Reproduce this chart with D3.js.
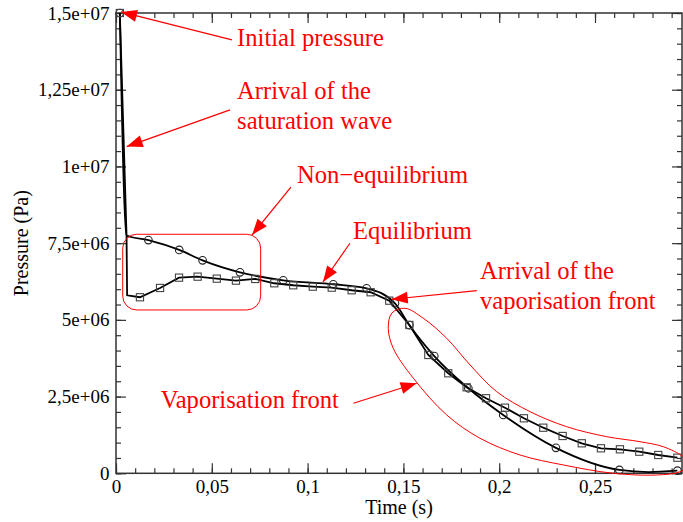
<!DOCTYPE html>
<html>
<head>
<meta charset="utf-8">
<script src="https://cdn.jsdelivr.net/npm/d3@7"></script>
<style>
    body { margin: 0; background: #fff; }
    #chart { width: 683px; height: 522px; }
    svg { display: block; font-family: "Liberation Serif", "Times New Roman", serif; }
</style>
</head>
<body>
<div id="chart"></div>
<script>
//Ejes
const xTickValues = [0, 0.05, 0.1, 0.15, 0.2, 0.25];
const xTickLabels = ['0', '0,05', '0,1', '0,15', '0,2', '0,25'];
const yTickValues = [0, 2.5e6, 5e6, 7.5e6, 1e7, 1.25e7, 1.5e7];
const yTickLabels = ['0', '2,5e+06', '5e+06', '7,5e+06', '1e+07', '1,25e+07', '1,5e+07'];

//Serie con círculos (línea y marcadores)
const circleLineTime = [0.002, 0.0055, 0.0169, 0.0330, 0.0452, 0.0647, 0.0873, 0.1134, 0.1308, 0.1456, 0.1531, 0.1661, 0.1839, 0.2021, 0.2296, 0.2627, 0.278, 0.2930];
const circleLinePressure = [1.5e7, 7.75e6, 7.60e6, 7.28e6, 6.94e6, 6.55e6, 6.29e6, 6.16e6, 6.03e6, 5.54e6, 4.83e6, 3.82e6, 2.77e6, 1.90e6, 0.83e6, 0.11e6, 0.04e6, 0.085e6];
const circleMarkTime = [0.002, 0.0169, 0.0330, 0.0452, 0.0647, 0.0873, 0.1134, 0.1308, 0.1456, 0.1531, 0.1661, 0.1839, 0.2021, 0.2296, 0.2627, 0.2930];
const circleMarkPressure = [1.5e7, 7.60e6, 7.28e6, 6.94e6, 6.55e6, 6.29e6, 6.16e6, 6.03e6, 5.54e6, 4.83e6, 3.82e6, 2.77e6, 1.90e6, 0.83e6, 0.11e6, 0.085e6];

//Serie con cuadrados
const squareLineTime = [0.002, 0.0055, 0.0058];
const squareLinePressure = [1.5e7, 7.75e6, 5.8e6];
const squareMarkTime = [0.0125, 0.0230, 0.0329, 0.0426, 0.0526, 0.0626, 0.0727, 0.0826, 0.0925, 0.1027, 0.1126, 0.1230, 0.1329, 0.1426, 0.1531, 0.1630, 0.1734, 0.1830, 0.1931, 0.2030, 0.2129, 0.2230, 0.2331, 0.2431, 0.2531, 0.2630, 0.2731, 0.2830, 0.2930];
const squareMarkPressure = [5.737e6, 6.040e6, 6.376e6, 6.408e6, 6.343e6, 6.278e6, 6.333e6, 6.193e6, 6.128e6, 6.082e6, 6.050e6, 5.965e6, 5.900e6, 5.626e6, 4.834e6, 3.856e6, 3.26e6, 2.803e6, 2.445e6, 2.138e6, 1.793e6, 1.486e6, 1.216e6, 0.978e6, 0.815e6, 0.782e6, 0.704e6, 0.596e6, 0.508e6];
const squareFirstMarkTime = 0.002, squareFirstMarkPressure = 1.5e7;

//Anotaciones
const noteLines = [['Initial pressure'], ['Arrival of the', 'saturation wave'], ['Non\u2212equilibrium'], ['Equilibrium'], ['Arrival of the', 'vaporisation front'], ['Vaporisation front']];
const noteTime = [0.0632, 0.0632, 0.0945, 0.1237, 0.19, 0.0233];
const notePressure = [1.3928e7, 1.220e7, 9.462e6, 7.637e6, 6.323e6, 2.119e6];
const arrowFromTime = [0.0605, 0.0595, 0.0913, 0.1221, 0.1883, 0.1239];
const arrowFromPressure = [1.4124e7, 1.1842e7, 9.322e6, 7.497e6, 5.952e6, 2.282e6];
const arrowToTime = [0.0026, 0.0056, 0.0710, 0.1080, 0.1439, 0.1569];
const arrowToPressure = [1.5036e7, 1.0646e7, 7.767e6, 6.235e6, 5.672e6, 2.934e6];
const boxTime = [0.0035, 0.0755];
const boxPressure = [5.323e6, 7.79e6];
const frontTime = [0.1508, 0.1604, 0.1726, 0.1848, 0.1987, 0.2161, 0.2352, 0.2561, 0.2735, 0.2856, 0.2961, 0.2996,
    0.2944, 0.2822, 0.2596, 0.2335, 0.2109, 0.19, 0.1726, 0.1552, 0.1447, 0.1421, 0.1440];
const frontPressure = [5.378e6, 5.052e6, 4.400e6, 3.530e6, 2.660e6, 2.008e6, 1.519e6, 1.193e6, 1.030e6, 0.867e6, 0.541e6, 0.303e6,
    0.052e6, -0.055e6, 0.0, 0.271e6, 0.596e6, 1.141e6, 1.900e6, 3.097e6, 4.074e6, 4.726e6, 5.225e6];

const RED = '#ff0000', AXIS = '#333333';

let margin = {top: 13, right: 1, bottom: 48.7, left: 116},
    width = 683 - margin.left - margin.right,
    height = 522 - margin.top - margin.bottom;

let svg = d3.select('#chart')
    .append('svg')
        .attr('width', 683)
        .attr('height', 522)
    .append('g')
        .attr('transform', 'translate(' + margin.left + ',' + margin.top + ')');

let x = d3.scaleLinear().domain([0, 0.2954]).range([0, width]);
let y = d3.scaleLinear().domain([0, 1.5e7]).range([height, 0]);

//Ticks menores
let xMinor = d3.range(0, 0.2954, 0.01), yMinor = d3.range(0, 1.5e7 + 1, 5e5);

function styleAxis(g) {
    g.select('.domain').remove();
    g.selectAll('line').attr('stroke', AXIS).attr('stroke-width', 1.2);
}

//Eje X (abajo y arriba)
svg.append('g').attr('transform', 'translate(0,' + height + ')')
    .call(d3.axisBottom(x).tickValues(xMinor).tickSizeInner(-5).tickSizeOuter(0).tickFormat(''))
    .call(styleAxis);
svg.append('g').attr('transform', 'translate(0,' + height + ')')
    .call(d3.axisBottom(x).tickValues(xTickValues).tickSizeInner(-10).tickSizeOuter(0).tickPadding(6)
        .tickFormat(function(d, i) { return xTickLabels[i]; }))
    .call(styleAxis)
    .selectAll('text').attr('fill', '#000').style('font-size', '19px').style('font-family', '"Liberation Serif", serif');
svg.append('g')
    .call(d3.axisTop(x).tickValues(xMinor).tickSizeInner(-5).tickSizeOuter(0).tickFormat(''))
    .call(styleAxis);
svg.append('g')
    .call(d3.axisTop(x).tickValues(xTickValues).tickSizeInner(-10).tickSizeOuter(0).tickFormat(''))
    .call(styleAxis);

//Eje Y (izquierda y derecha)
svg.append('g')
    .call(d3.axisLeft(y).tickValues(yMinor).tickSizeInner(-5).tickSizeOuter(0).tickFormat(''))
    .call(styleAxis);
svg.append('g')
    .call(d3.axisLeft(y).tickValues(yTickValues).tickSizeInner(-10).tickSizeOuter(0).tickPadding(6.5)
        .tickFormat(function(d, i) { return yTickLabels[i]; }))
    .call(styleAxis)
    .selectAll('text').attr('fill', '#000').style('font-size', '19px').style('font-family', '"Liberation Serif", serif');
svg.append('g').attr('transform', 'translate(' + width + ',0)')
    .call(d3.axisRight(y).tickValues(yMinor).tickSizeInner(-5).tickSizeOuter(0).tickFormat(''))
    .call(styleAxis);
svg.append('g').attr('transform', 'translate(' + width + ',0)')
    .call(d3.axisRight(y).tickValues(yTickValues).tickSizeInner(-10).tickSizeOuter(0).tickFormat(''))
    .call(styleAxis);

//Marco
svg.append('rect')
    .attr('x', 0).attr('y', 0).attr('width', width).attr('height', height)
    .attr('fill', 'none').attr('stroke', AXIS).attr('stroke-width', 1.5);

//Títulos de ejes
svg.append('text')
    .attr('x', width / 2).attr('y', height + 41)
    .attr('text-anchor', 'middle').style('font-size', '20px')
    .text('Time (s)');
svg.append('text')
    .attr('transform', 'translate(' + (28 - margin.left) + ',' + (height / 2) + ') rotate(-90)')
    .attr('text-anchor', 'middle').style('font-size', '20px')
    .text('Pressure (Pa)');

//Líneas
let circleLine = circleLineTime.map(function(t, i) { return [t, circleLinePressure[i]]; });
let squareLine = squareLineTime.map(function(t, i) { return [t, squareLinePressure[i]]; })
    .concat(squareMarkTime.map(function(t, i) { return [t, squareMarkPressure[i]]; }));

svg.append('path')
    .datum(circleLine)
    .attr('fill', 'none').attr('stroke', '#000').attr('stroke-width', 1.8)
    .attr('d', d3.line().curve(d3.curveMonotoneX)
        .x(function(d) { return x(d[0]); })
        .y(function(d) { return y(d[1]); }));

svg.append('path')
    .datum(squareLine)
    .attr('fill', 'none').attr('stroke', '#000').attr('stroke-width', 1.8)
    .attr('d', d3.line()
        .x(function(d) { return x(d[0]); })
        .y(function(d) { return y(d[1]); }));

//Marcadores
svg.selectAll('.mark-circle')
    .data(circleMarkTime)
    .enter().append('circle')
    .attr('class', 'mark-circle')
    .attr('cx', function(d) { return x(d); })
    .attr('cy', function(d, i) { return y(circleMarkPressure[i]); })
    .attr('r', 3.8)
    .attr('fill', 'none').attr('stroke', '#222').attr('stroke-width', 1.1);

let squareMarks = [[squareFirstMarkTime, squareFirstMarkPressure]]
    .concat(squareMarkTime.map(function(t, i) { return [t, squareMarkPressure[i]]; }));

svg.selectAll('.mark-square')
    .data(squareMarks)
    .enter().append('rect')
    .attr('class', 'mark-square')
    .attr('x', function(d) { return x(d[0]) - 3.6; })
    .attr('y', function(d) { return y(d[1]) - 3.6; })
    .attr('width', 7.2).attr('height', 7.2)
    .attr('fill', 'none').attr('stroke', '#444').attr('stroke-width', 1.1);

//Anotaciones
svg.append('defs').append('marker')
    .attr('id', 'head')
    .attr('viewBox', '-17 -7 18 14')
    .attr('markerUnits', 'userSpaceOnUse')
    .attr('markerWidth', 18).attr('markerHeight', 14)
    .attr('refX', 0).attr('refY', 0)
    .attr('orient', 'auto')
    .append('path')
    .attr('d', 'M0,0L-16,-6L-16,6Z')
    .attr('fill', RED);

arrowFromTime.forEach(function(t, i) {
    svg.append('line')
        .attr('x1', x(t)).attr('y1', y(arrowFromPressure[i]))
        .attr('x2', x(arrowToTime[i])).attr('y2', y(arrowToPressure[i]))
        .attr('stroke', RED).attr('stroke-width', 1.2)
        .attr('marker-end', 'url(#head)');
});

noteLines.forEach(function(lines, i) {
    let txt = svg.append('text')
        .attr('x', x(noteTime[i])).attr('y', y(notePressure[i]))
        .attr('fill', RED).style('font-size', '24.6px');
    lines.forEach(function(l, j) {
        txt.append('tspan').attr('x', x(noteTime[i])).attr('dy', j ? 30 : 0).text(l);
    });
});

svg.append('rect')
    .attr('x', x(boxTime[0])).attr('y', y(boxPressure[1]))
    .attr('width', x(boxTime[1]) - x(boxTime[0]))
    .attr('height', y(boxPressure[0]) - y(boxPressure[1]))
    .attr('rx', 14).attr('ry', 14)
    .attr('fill', 'none').attr('stroke', RED).attr('stroke-width', 1);

svg.append('path')
    .datum(frontTime.map(function(t, i) { return [t, frontPressure[i]]; }))
    .attr('fill', 'none').attr('stroke', RED).attr('stroke-width', 1)
    .attr('d', d3.line().curve(d3.curveCatmullRomClosed.alpha(0.5))
        .x(function(d) { return x(d[0]); })
        .y(function(d) { return y(d[1]); }));
</script>
</body>
</html>
